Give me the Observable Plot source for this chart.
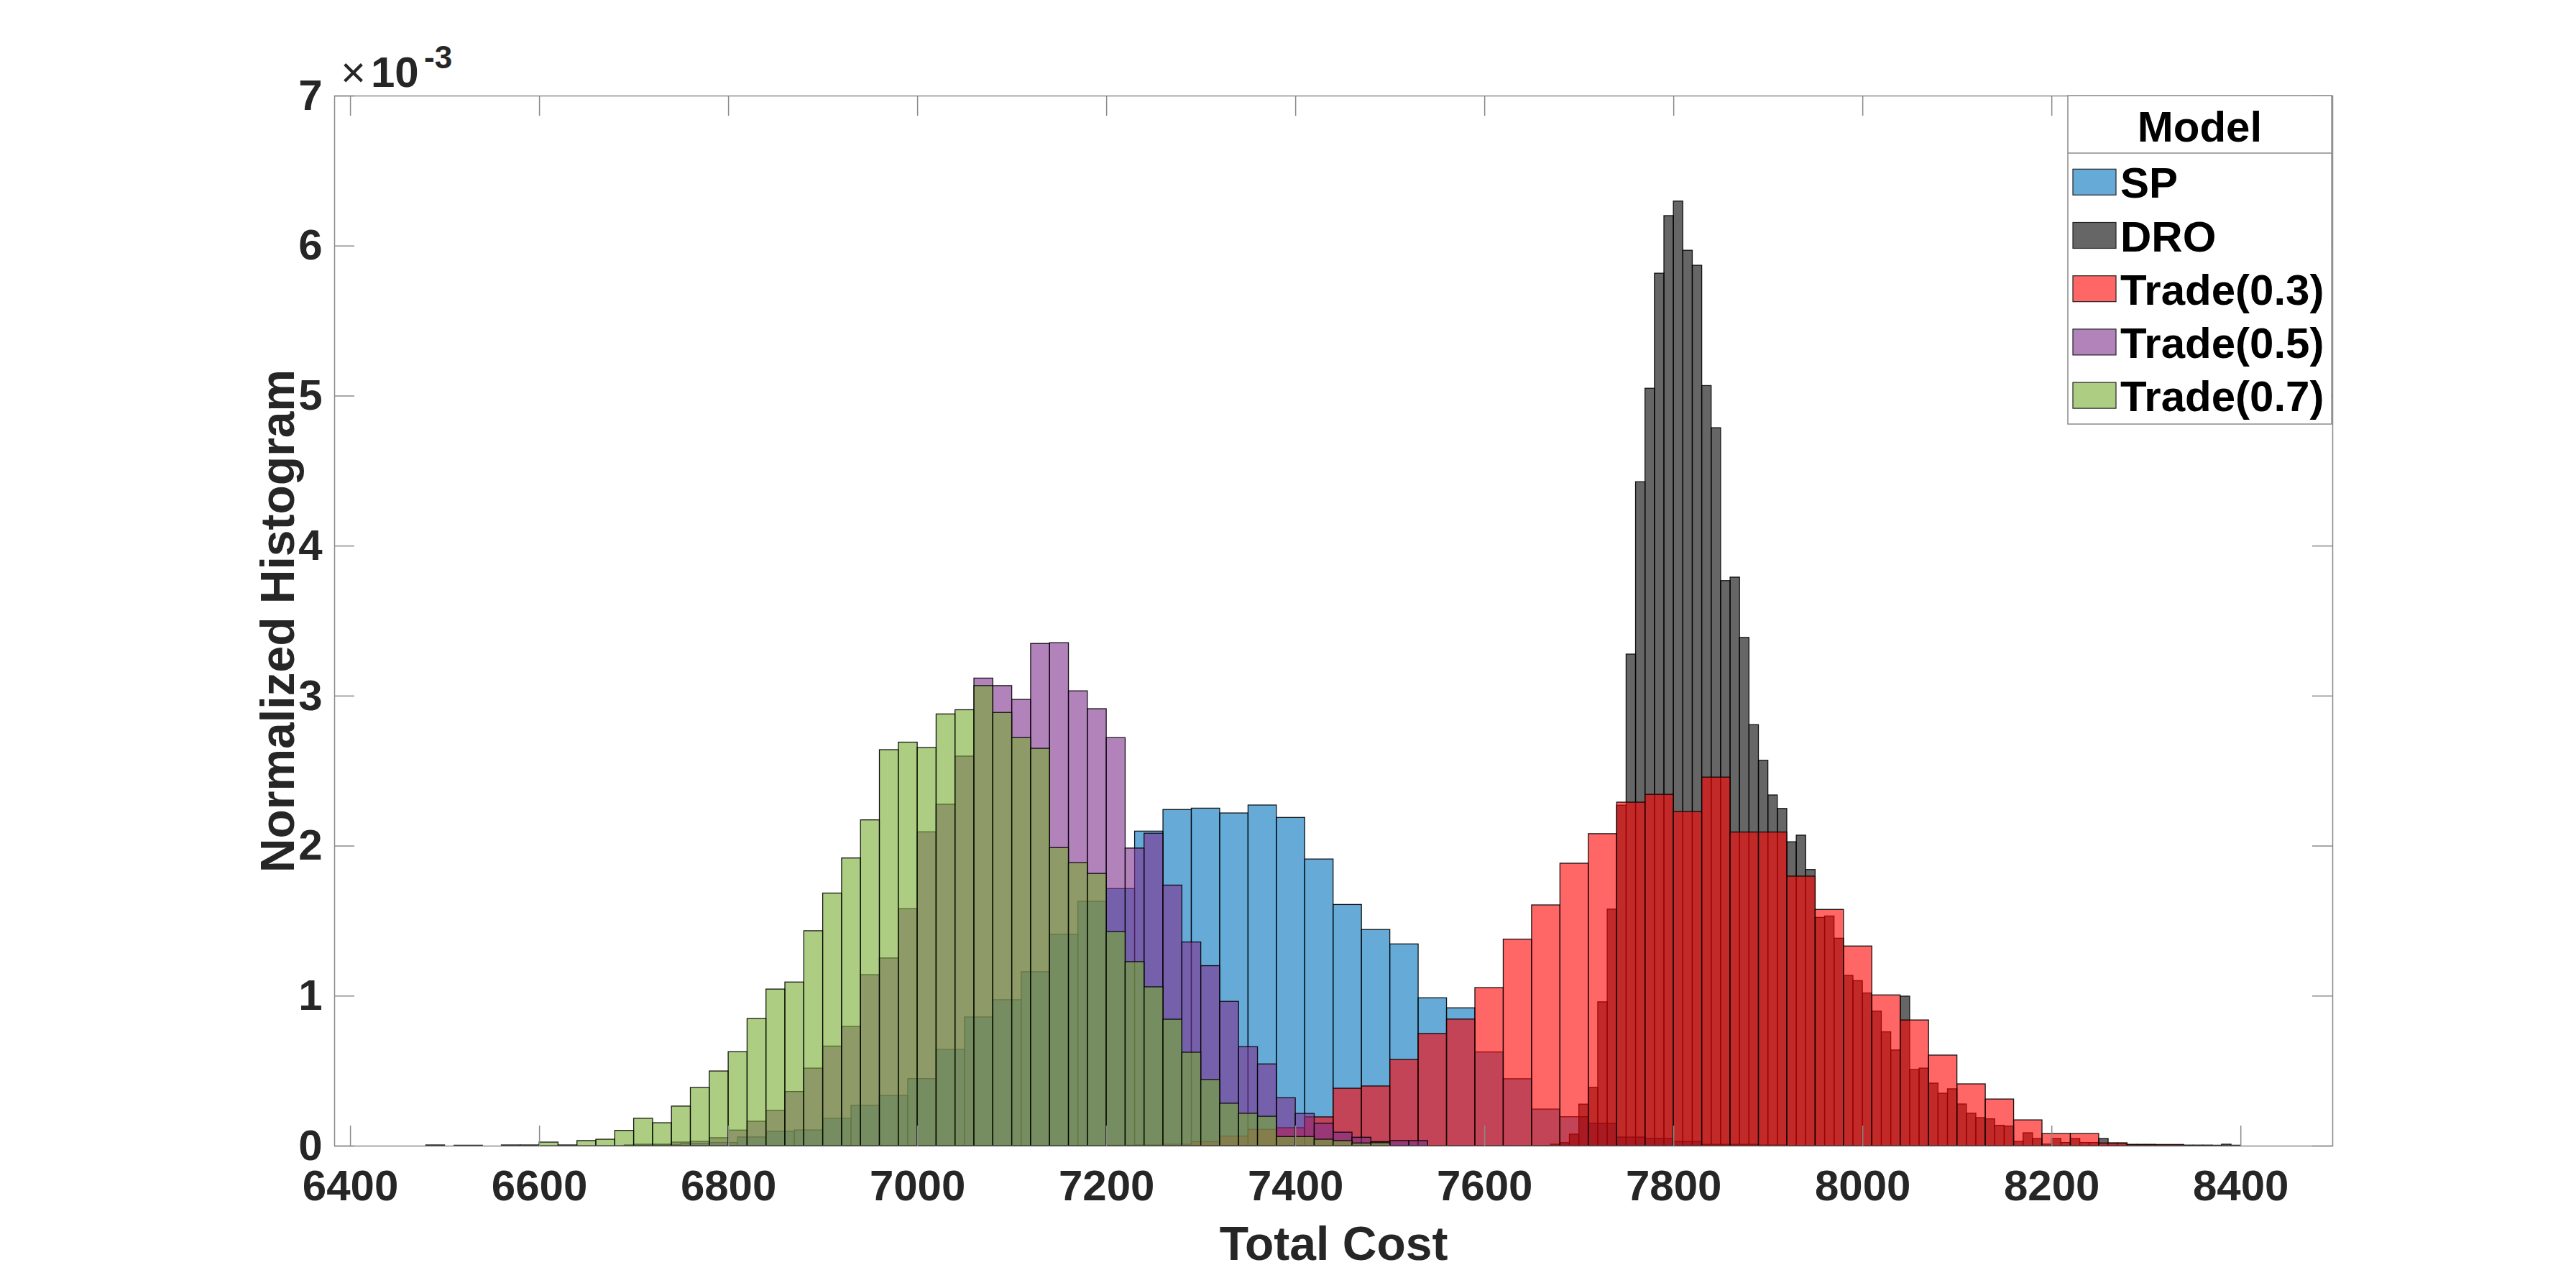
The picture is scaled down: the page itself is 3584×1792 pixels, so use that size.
<!DOCTYPE html>
<html>
<head>
<meta charset="utf-8">
<script src="https://cdn.jsdelivr.net/npm/d3@7"></script>
<script src="https://cdn.jsdelivr.net/npm/@observablehq/plot@0.6"></script>
<style>
html, body { margin: 0; padding: 0; background: #fff; }
#wrap { width: 3584px; height: 1792px; }
</style>
</head>
<body>
<div id="wrap"></div>
<script>
// ---------- data (heights in units of 10^-3) ----------
const seriesNames  = ["SP", "DRO", "Trade(0.3)", "Trade(0.5)", "Trade(0.7)"];
const seriesColors = ["#0072BD", "#000000", "#FF0000", "#7E2F8E", "#77AC30"];
const binStarts    = [6510, 7670, 7200, 6700, 6480];
const binWidths    = [30, 10, 30, 20, 20];

const spHeights = [0.003, 0, 0, 0, 0, 0, 0.005, 0.008, 0.016, 0.021, 0.058, 0.096, 0.105, 0.182, 0.270, 0.335,
  0.447, 0.642, 0.858, 0.973, 1.160, 1.409, 1.629, 1.714, 2.097, 2.241, 2.250, 2.218, 2.271, 2.188, 1.911,
  1.608, 1.441, 1.345, 0.986, 0.919, 0.625, 0.446, 0.244, 0.193, 0.149, 0.057, 0.048, 0.028, 0.009, 0.009, 0.004];

const droHeights = [0.01, 0.02, 0.077, 0.277, 0.389, 0.959, 1.577, 2.27, 3.277, 4.426, 5.049, 5.816, 6.200, 6.297,
  5.969, 5.869, 5.067, 4.786, 3.767, 3.790, 3.388, 2.807, 2.569, 2.338, 2.248, 2.026, 2.070, 1.841, 1.522, 1.531,
  1.383, 1.135, 1.100, 1.018, 0.897, 0.759, 0.638, 0.997, 0.508, 0.517, 0.417, 0.350, 0.379, 0.278, 0.217, 0.187,
  0.179, 0.136, 0.131, 0.029, 0.086, 0.048, 0.011, 0.048, 0.021, 0.048, 0.021, 0.021, 0.048, 0.018, 0.018, 0.008,
  0.008, 0.008, 0.005, 0.005, 0.005, 0.003, 0.003, 0.003, 0.003, 0.01, 0.003];

const trade03Heights = [0.003, 0.005, 0.01, 0.027, 0.064, 0.109, 0.120, 0.192, 0.383, 0.398, 0.575, 0.748, 0.844,
  1.054, 1.377, 1.605, 1.883, 2.080, 2.290, 2.342, 2.228, 2.457, 2.091, 2.091, 1.797, 1.575, 1.331, 1.005, 0.838,
  0.604, 0.412, 0.311, 0.172, 0.081, 0.081, 0.018, 0.008, 0.008, 0.003];

const trade05Heights = [0.01, 0.01, 0.024, 0.029, 0.053, 0.104, 0.163, 0.236, 0.361, 0.517, 0.664, 0.795, 1.140,
  1.251, 1.580, 2.092, 2.276, 2.597, 3.117, 3.067, 2.975, 3.348, 3.353, 3.032, 2.913, 2.720, 1.984, 2.083, 1.737,
  1.358, 1.200, 0.962, 0.660, 0.545, 0.320, 0.215, 0.150, 0.090, 0.056, 0.027, 0.034, 0.034];

const trade07Heights = [0.005, 0, 0, 0, 0.005, 0.005, 0.024, 0.005, 0.034, 0.043, 0.102, 0.183, 0.153, 0.264, 0.388,
  0.498, 0.627, 0.848, 1.044, 1.091, 1.433, 1.684, 1.918, 2.172, 2.640, 2.690, 2.654, 2.878, 2.906, 3.067, 2.888,
  2.720, 2.649, 1.987, 1.886, 1.815, 1.427, 1.227, 1.059, 0.843, 0.623, 0.441, 0.283, 0.216, 0.196, 0.061, 0.061,
  0.043, 0.034, 0.018, 0.02];

const allHeights = [spHeights, droHeights, trade03Heights, trade05Heights, trade07Heights];

const xTicks = [6400, 6600, 6800, 7000, 7200, 7400, 7600, 7800, 8000, 8200, 8400];
const yTicks = [0, 1, 2, 3, 4, 5, 6, 7];
const xLabel = "Total Cost";
const yLabel = "Normalized Histogram";
const legendTitle = "Model";

// ---------- build bins ----------
const bins = seriesNames.map((name, s) =>
  allHeights[s]
    .map((h, i) => ({series: name, x1: binStarts[s] + i * binWidths[s], x2: binStarts[s] + (i + 1) * binWidths[s], h}))
    .filter(d => d.h > 0)
);

// ---------- layout ----------
const W = 3584, H = 1792;
const mL = 465, mR = 339, mT = 133, mB = 198;
const innerW = W - mL - mR, innerH = H - mT - mB;
const tickLen = 28;
const axisGray = "#8a8a8a";
const textColor = "#262626";
const font = "'Liberation Sans', Arial, Helvetica, sans-serif";

const barMarks = seriesNames.map((name, s) =>
  Plot.rect(bins[s], {
    x1: "x1", x2: "x2", y1: 0, y2: "h",
    fill: seriesColors[s], fillOpacity: 0.6,
    stroke: "#000", strokeWidth: 1.3, strokeOpacity: 0.9
  })
);

const chart = Plot.plot({
  width: W, height: H,
  marginLeft: mL, marginRight: mR, marginTop: mT, marginBottom: mB,
  x: {domain: [6383.2, 8497.2]},
  y: {domain: [0, 7]},
  style: {fontFamily: font, fontSize: "60px", fontWeight: "bold", color: textColor, background: "#fff", overflow: "visible"},
  marks: [
    ...barMarks,
    Plot.frame({stroke: axisGray, strokeWidth: 1.5}),
    Plot.tickX(xTicks, {x: d => d, stroke: axisGray, strokeWidth: 1.5, insetTop: innerH - tickLen}),
    Plot.tickX(xTicks, {x: d => d, stroke: axisGray, strokeWidth: 1.5, insetBottom: innerH - tickLen}),
    Plot.tickY(yTicks, {y: d => d, stroke: axisGray, strokeWidth: 1.5, insetRight: innerW - tickLen}),
    Plot.tickY(yTicks, {y: d => d, stroke: axisGray, strokeWidth: 1.5, insetLeft: innerW - tickLen}),
    Plot.axisX({ticks: xTicks, tickSize: 0, tickPadding: 33, label: null, tickFormat: d => String(d),
      fontSize: 60, fontWeight: "bold", fill: textColor}),
    Plot.axisY({ticks: yTicks, tickSize: 0, tickPadding: 17, label: null, tickFormat: d => String(d),
      fontSize: 60, fontWeight: "bold", fill: textColor}),
    Plot.text([xLabel], {text: d => d, frameAnchor: "bottom", dy: 158, lineAnchor: "bottom", textAnchor: "middle",
      fontSize: 66, fontWeight: "bold", fill: textColor}),
    Plot.text([yLabel], {text: d => d, frameAnchor: "left", dx: -57, rotate: -90, lineAnchor: "bottom",
      textAnchor: "middle", fontSize: 66, fontWeight: "bold", fill: textColor})
  ]
});

document.getElementById("wrap").appendChild(chart);

// ---------- exponent label ----------
const svg = d3.select(chart);
const expo = svg.append("text")
  .attr("x", 474).attr("y", 121)
  .attr("text-anchor", "start")
  .attr("fill", textColor)
  .style("font-family", font).style("font-size", "60px");
expo.append("tspan").style("font-weight", "normal").text("×");
expo.append("tspan").attr("x", 516).style("font-weight", "bold").text("10");
expo.append("tspan").attr("x", 590).attr("dy", -26).style("font-weight", "bold").style("font-size", "44px").text("-3");

// ---------- legend ----------
const lx = 2877, ly = 133, lw = 367, lh = 457, headerH = 80, rowStep = 74.2, firstRow = 120.3;
const lg = svg.append("g").style("font-family", font).style("font-weight", "bold");
lg.append("rect").attr("x", lx).attr("y", ly).attr("width", lw).attr("height", lh)
  .attr("fill", "#fff").attr("stroke", axisGray).attr("stroke-width", 1.5);
lg.append("line").attr("x1", lx).attr("x2", lx + lw).attr("y1", ly + headerH).attr("y2", ly + headerH)
  .attr("stroke", axisGray).attr("stroke-width", 1.5);
lg.append("text").attr("x", lx + lw / 2).attr("y", ly + 64).attr("text-anchor", "middle")
  .attr("fill", "#000").style("font-size", "60px").text(legendTitle);
seriesNames.forEach((name, i) => {
  const cy = ly + firstRow + i * rowStep;
  lg.append("rect").attr("x", lx + 7).attr("y", cy - 18).attr("width", 60).attr("height", 36)
    .attr("fill", seriesColors[i]).attr("fill-opacity", 0.6).attr("stroke", "#222").attr("stroke-width", 1.2);
  lg.append("text").attr("x", lx + 73).attr("y", cy + 22).attr("text-anchor", "start").attr("fill", "#000")
    .style("font-size", "60px").text(name);
});
</script>
</body>
</html>
